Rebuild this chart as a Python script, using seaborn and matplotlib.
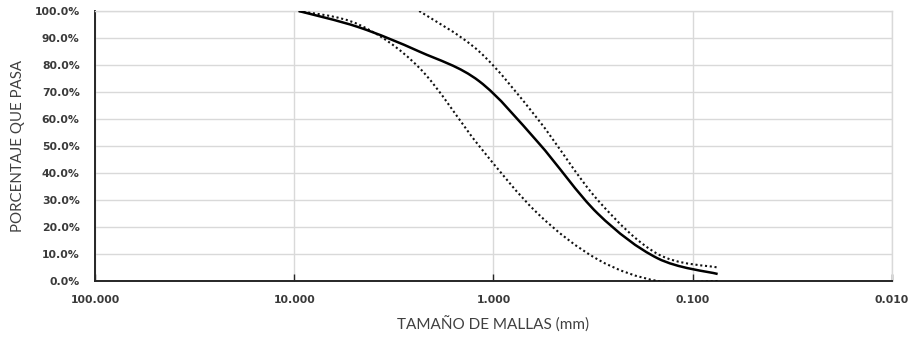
import numpy as np
import matplotlib
matplotlib.use("Agg")
import matplotlib.pyplot as plt
from matplotlib.path import Path
from matplotlib.patches import PathPatch
from matplotlib.ticker import FixedLocator, FuncFormatter, PercentFormatter, NullLocator
import seaborn as sns

# Abertura de tamices (mm) y porcentaje que pasa
tamiz_muestra = [9.5, 4.75, 2.36, 1.18, 0.6, 0.3, 0.15, 0.075]
pasa_muestra = [100.0, 94.0, 85.0, 74.0, 51.5, 25.0, 8.4, 2.6]

# Límite inferior del huso granulométrico
tamiz_lim_inf = [9.5, 4.75, 2.36, 1.18, 0.6, 0.3, 0.15, 0.075]
pasa_lim_inf = [100.0, 95.0, 79.0, 50.0, 25.0, 8.0, 0.0, 0.0]

# Límite superior del huso granulométrico
tamiz_lim_sup = [2.36, 1.18, 0.6, 0.3, 0.15, 0.075]
pasa_lim_sup = [100.0, 85.0, 60.0, 30.0, 10.0, 5.0]

x_ticks = [100, 10, 1, 0.1, 0.01]
y_ticks = [0, 10, 20, 30, 40, 50, 60, 70, 80, 90, 100]

sns.set_theme(style="whitegrid")
plt.rcParams["font.family"] = ["DejaVu Sans"]


def curva_suavizada(x, y):
    """Bezier path through the points (smoothed line, log-x space)."""
    pts = np.column_stack([np.log10(x), np.asarray(y, dtype=float)])
    n = len(pts)
    verts = [pts[0]]
    codes = [Path.MOVETO]
    for i in range(n - 1):
        p_prev = pts[i - 1] if i > 0 else pts[i]
        p_next = pts[i + 2] if i + 2 < n else pts[i + 1]
        c1 = pts[i] + (pts[i + 1] - p_prev) / 6.0
        c2 = pts[i + 1] - (p_next - pts[i]) / 6.0
        verts += [c1, c2, pts[i + 1]]
        codes += [Path.CURVE4] * 3
    verts = np.array(verts)
    verts[:, 0] = 10.0 ** verts[:, 0]
    return Path(verts, codes)


fig = plt.figure(figsize=(9.12, 3.37), dpi=100)
ax = fig.add_axes([95 / 912, 56 / 337, 797 / 912, 270 / 337])

ax.set_xscale("log")
ax.set_xlim(100, 0.01)
ax.set_ylim(0, 100)

series = [
    (tamiz_lim_inf, pasa_lim_inf, dict(lw=1.5, linestyle=(0, (1, 1.3)), edgecolor="#111111")),
    (tamiz_lim_sup, pasa_lim_sup, dict(lw=1.5, linestyle=(0, (1, 1.3)), edgecolor="#111111")),
    (tamiz_muestra, pasa_muestra, dict(lw=1.8, linestyle="-", edgecolor="black")),
]
for x, y, estilo in series:
    ax.add_patch(PathPatch(curva_suavizada(x, y), facecolor="none",
                           capstyle="butt", joinstyle="round", zorder=3, **estilo))

ax.xaxis.set_major_locator(FixedLocator(x_ticks))
ax.xaxis.set_minor_locator(NullLocator())
ax.xaxis.set_major_formatter(FuncFormatter(lambda v, _: f"{v:.3f}"))
ax.yaxis.set_major_locator(FixedLocator(y_ticks))
ax.yaxis.set_major_formatter(PercentFormatter(100, decimals=1))

ax.grid(True, which="major", color="#d9d9d9", lw=1.0)
ax.set_axisbelow(True)

for side in ("top", "right"):
    ax.spines[side].set_visible(True)
    ax.spines[side].set_color("#d9d9d9")
    ax.spines[side].set_linewidth(1.0)
for side in ("left", "bottom"):
    ax.spines[side].set_visible(True)
    ax.spines[side].set_color("#262626")
    ax.spines[side].set_linewidth(1.4)

ax.tick_params(axis="x", which="major", direction="in", length=5, width=1,
               color="#262626", bottom=True, pad=10, labelsize=7.8,
               labelcolor="#3a3a3a")
ax.tick_params(axis="y", which="major", length=0, pad=11, labelsize=7.8,
               labelcolor="#3a3a3a")
for lbl in ax.get_xticklabels() + ax.get_yticklabels():
    lbl.set_fontweight("bold")

ax.set_xlabel("TAMAÑO DE MALLAS (mm)", fontsize=11, color="#404040",
              family=["Lato", "DejaVu Sans"], va="center")
ax.set_ylabel("PORCENTAJE QUE PASA", fontsize=10.8, color="#404040",
              family=["Lato", "DejaVu Sans"], va="center")
ax.xaxis.set_label_coords(0.5, -(325 - 281) / 270)
ax.yaxis.set_label_coords(-(95 - 18) / 797, 0.5)

fig.savefig("out.png", dpi=100, facecolor="white")
